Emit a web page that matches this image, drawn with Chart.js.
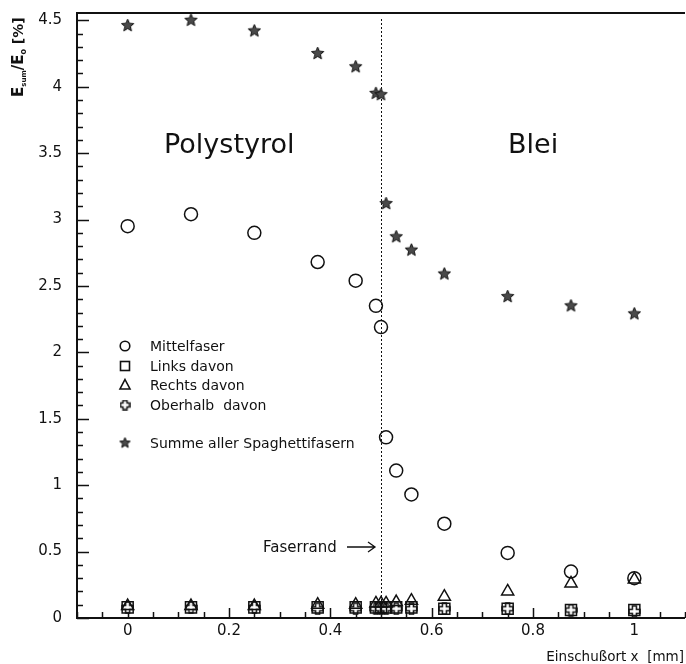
<!DOCTYPE html>
<html>
<head>
<meta charset="utf-8">
<script src="https://cdn.jsdelivr.net/npm/chart.js@4.4.1/dist/chart.umd.min.js"></script>
<style>
  html, body { margin: 0; padding: 0; background: #fff; }
</style>
</head>
<body>
<canvas id="myChart" width="686" height="664"></canvas>
<script>
// Einschussort x [mm]
const xPos = [0, 0.125, 0.25, 0.375, 0.45, 0.49, 0.5, 0.51, 0.53, 0.56, 0.625, 0.75, 0.875, 1.0];

// E_sum / E_0 [%]
const mittelfaser = [2.95, 3.04, 2.90, 2.68, 2.54, 2.35, 2.19, 1.36, 1.11, 0.93, 0.71, 0.49, 0.35, 0.30];
const linksDavon  = [0.08, 0.08, 0.08, 0.08, 0.08, 0.08, 0.08, 0.08, 0.08, 0.08, 0.07, 0.07, 0.06, 0.06];
const rechtsDavon = [0.09, 0.09, 0.09, 0.10, 0.10, 0.11, 0.11, 0.11, 0.12, 0.13, 0.16, 0.20, 0.26, 0.29];
const oberhalb    = [0.08, 0.08, 0.08, 0.07, 0.07, 0.07, 0.07, 0.07, 0.07, 0.07, 0.07, 0.07, 0.06, 0.05];
const summe       = [4.46, 4.50, 4.42, 4.25, 4.15, 3.95, 3.94, 3.12, 2.87, 2.77, 2.59, 2.42, 2.35, 2.29];

const xTicks = [0, 0.2, 0.4, 0.6, 0.8, 1];
const yTicks = [0, 0.5, 1, 1.5, 2, 2.5, 3, 3.5, 4, 4.5];
const faserrand = 0.5;

const FONT = 'DejaVu Sans';

// marker pictures
function makeStar(size) {
  const c = document.createElement('canvas');
  c.width = c.height = size;
  const g = c.getContext('2d');
  const r = size / 2 - 1, ri = r * 0.45, m = size / 2;
  g.beginPath();
  for (let i = 0; i < 10; i++) {
    const a = -Math.PI / 2 + i * Math.PI / 5;
    const rr = i % 2 ? ri : r;
    g.lineTo(m + rr * Math.cos(a), m + rr * Math.sin(a));
  }
  g.closePath();
  g.fillStyle = '#4a4a4a';
  g.fill();
  g.strokeStyle = '#111';
  g.lineWidth = 1;
  g.stroke();
  return c;
}

function makeCross(size) {
  const c = document.createElement('canvas');
  c.width = c.height = size;
  const g = c.getContext('2d');
  const m = size / 2, a = 2, b = size / 2 - 1;
  const pts = [[-a, -b], [a, -b], [a, -a], [b, -a], [b, a], [a, a], [a, b], [-a, b], [-a, a], [-b, a], [-b, -a], [-a, -a]];
  g.beginPath();
  pts.forEach(p => g.lineTo(m + p[0], m + p[1]));
  g.closePath();
  g.fillStyle = '#fff';
  g.fill();
  g.strokeStyle = '#111';
  g.lineWidth = 1.5;
  g.stroke();
  return c;
}

const starImg = makeStar(15);
const crossImg = makeCross(13);
const starSmall = makeStar(13);
const crossSmall = makeCross(11);

function pts(arr) {
  return xPos.map((x, i) => ({ x: x, y: arr[i] }));
}

function ds(label, arr, style, radius) {
  return {
    label: label,
    data: pts(arr),
    pointStyle: style,
    pointRadius: radius,
    pointHoverRadius: radius,
    borderColor: '#111',
    backgroundColor: 'rgba(0,0,0,0)',
    pointBorderWidth: 1.5,
    showLine: false,
    clip: false
  };
}

const frame = {
  id: 'frame',
  beforeDatasetsDraw(chart) {
    const ctx = chart.ctx;
    const { left, right, top, bottom } = chart.chartArea;
    const xs = chart.scales.x, ys = chart.scales.y;
    ctx.save();
    ctx.strokeStyle = '#111';
    ctx.lineWidth = 2;
    ctx.beginPath();
    ctx.moveTo(right, top);
    ctx.lineTo(left, top);
    ctx.lineTo(left, bottom);
    ctx.lineTo(right, bottom);
    ctx.stroke();

    ctx.lineWidth = 1.5;
    ctx.beginPath();
    for (let k = -2; k <= 22; k++) {
      const v = k * 0.05;
      if (v < xs.min - 1e-9 || v > xs.max + 1e-9) continue;
      const px = Math.round(xs.getPixelForValue(v)) + 0.5;
      const len = (k % 4 === 0) ? 10 : 6;
      ctx.moveTo(px, bottom);
      ctx.lineTo(px, bottom - len);
    }
    for (let k = 0; k <= 45; k++) {
      const py = Math.round(ys.getPixelForValue(k * 0.1)) + 0.5;
      const len = (k % 5 === 0) ? 12 : 6;
      ctx.moveTo(left, py);
      ctx.lineTo(left + len, py);
    }
    ctx.stroke();

    // Faserrand
    const fx = Math.round(xs.getPixelForValue(faserrand)) + 0.5;
    ctx.lineWidth = 1;
    ctx.setLineDash([2, 2]);
    ctx.beginPath();
    ctx.moveTo(fx, top + 6);
    ctx.lineTo(fx, bottom);
    ctx.stroke();
    ctx.restore();
  },
  afterDraw(chart) {
    const ctx = chart.ctx;
    const { right } = chart.chartArea;
    ctx.save();
    ctx.fillStyle = '#111';
    ctx.strokeStyle = '#111';
    ctx.textBaseline = 'alphabetic';

    ctx.font = '27px "' + FONT + '"';
    ctx.fillText('Polystyrol', 164, 153);
    ctx.fillText('Blei', 508, 153);

    // legend
    const rows = [
      ['Mittelfaser', 346, 'circle'],
      ['Links davon', 366, 'rect'],
      ['Rechts davon', 385, 'tri'],
      ['Oberhalb  davon', 405, 'cross'],
      ['Summe aller Spaghettifasern', 443, 'star']
    ];
    ctx.font = '14px "' + FONT + '"';
    ctx.textBaseline = 'middle';
    ctx.lineWidth = 1.6;
    rows.forEach(r => {
      const mx = 125, my = r[1];
      ctx.beginPath();
      if (r[2] === 'circle') {
        ctx.arc(mx, my, 4.8, 0, Math.PI * 2);
        ctx.stroke();
      } else if (r[2] === 'rect') {
        ctx.strokeRect(mx - 4.5, my - 4.5, 9, 9);
      } else if (r[2] === 'tri') {
        ctx.moveTo(mx, my - 5.5);
        ctx.lineTo(mx + 5, my + 4);
        ctx.lineTo(mx - 5, my + 4);
        ctx.closePath();
        ctx.stroke();
      } else if (r[2] === 'cross') {
        ctx.drawImage(crossSmall, mx - 5.5, my - 5.5);
      } else {
        ctx.drawImage(starSmall, mx - 6.5, my - 6.5);
      }
      ctx.fillText(r[0], 150, my + 1);
    });

    // Faserrand label and arrow
    ctx.font = '15px "' + FONT + '"';
    ctx.fillText('Faserrand', 263, 548);
    ctx.lineWidth = 1.3;
    ctx.beginPath();
    ctx.moveTo(347, 547);
    ctx.lineTo(375, 547);
    ctx.moveTo(368, 542);
    ctx.lineTo(375, 547);
    ctx.lineTo(368, 552);
    ctx.stroke();

    // x title
    ctx.font = '13.5px "' + FONT + '"';
    ctx.textAlign = 'right';
    ctx.textBaseline = 'alphabetic';
    ctx.fillText('Einschußort x  [mm]', right - 1, 661);

    // y title, rotated
    ctx.save();
    ctx.translate(23, 97);
    ctx.rotate(-Math.PI / 2);
    ctx.textAlign = 'left';
    let cx = 0;
    const part = (t, size, dy, bold) => {
      ctx.font = (bold ? 'bold ' : '') + size + 'px "' + FONT + '"';
      ctx.fillText(t, cx, dy);
      cx += ctx.measureText(t).width;
    };
    part('E', 15, 0, true);
    part('sum', 7, 3, true);
    part('/E', 15, 0, true);
    part('o', 8, 3, true);
    part(' [%]', 14, 0, true);
    ctx.restore();

    ctx.restore();
  }
};

const ctx = document.getElementById('myChart').getContext('2d');
const myChart = new Chart(ctx, {
  type: 'scatter',
  data: {
    datasets: [
      ds('Links davon', linksDavon, 'rect', 7.8),
      ds('Rechts davon', rechtsDavon, 'triangle', 7),
      ds('Oberhalb davon', oberhalb, crossImg, 6),
      ds('Mittelfaser', mittelfaser, 'circle', 6.5),
      ds('Summe aller Spaghettifasern', summe, starImg, 7)
    ]
  },
  options: {
    responsive: false,
    animation: false,
    layout: { autoPadding: false, padding: { top: 13, right: 1, left: 0, bottom: 0 } },
    plugins: {
      legend: { display: false },
      tooltip: { enabled: false }
    },
    scales: {
      x: {
        type: 'linear',
        min: -0.1,
        max: 1.1,
        afterBuildTicks: s => { s.ticks = xTicks.map(v => ({ value: v })); },
        afterFit: s => { s.height = 46; s.paddingLeft = 0; s.paddingRight = 0; },
        grid: { display: false, drawTicks: false },
        border: { display: false },
        ticks: {
          autoSkip: false,
          maxRotation: 0,
          padding: 4,
          color: '#111',
          font: { family: FONT, size: 15 },
          callback: v => String(v)
        }
      },
      y: {
        type: 'linear',
        min: 0,
        max: 4.555,
        afterBuildTicks: s => { s.ticks = yTicks.map(v => ({ value: v })); },
        afterFit: s => { s.width = 77; s.paddingTop = 0; s.paddingBottom = 0; },
        grid: { display: false, drawTicks: false },
        border: { display: false },
        ticks: {
          autoSkip: false,
          padding: 15,
          color: '#111',
          font: { family: FONT, size: 15 },
          callback: v => String(v)
        }
      }
    }
  },
  plugins: [frame]
});
</script>
</body>
</html>
